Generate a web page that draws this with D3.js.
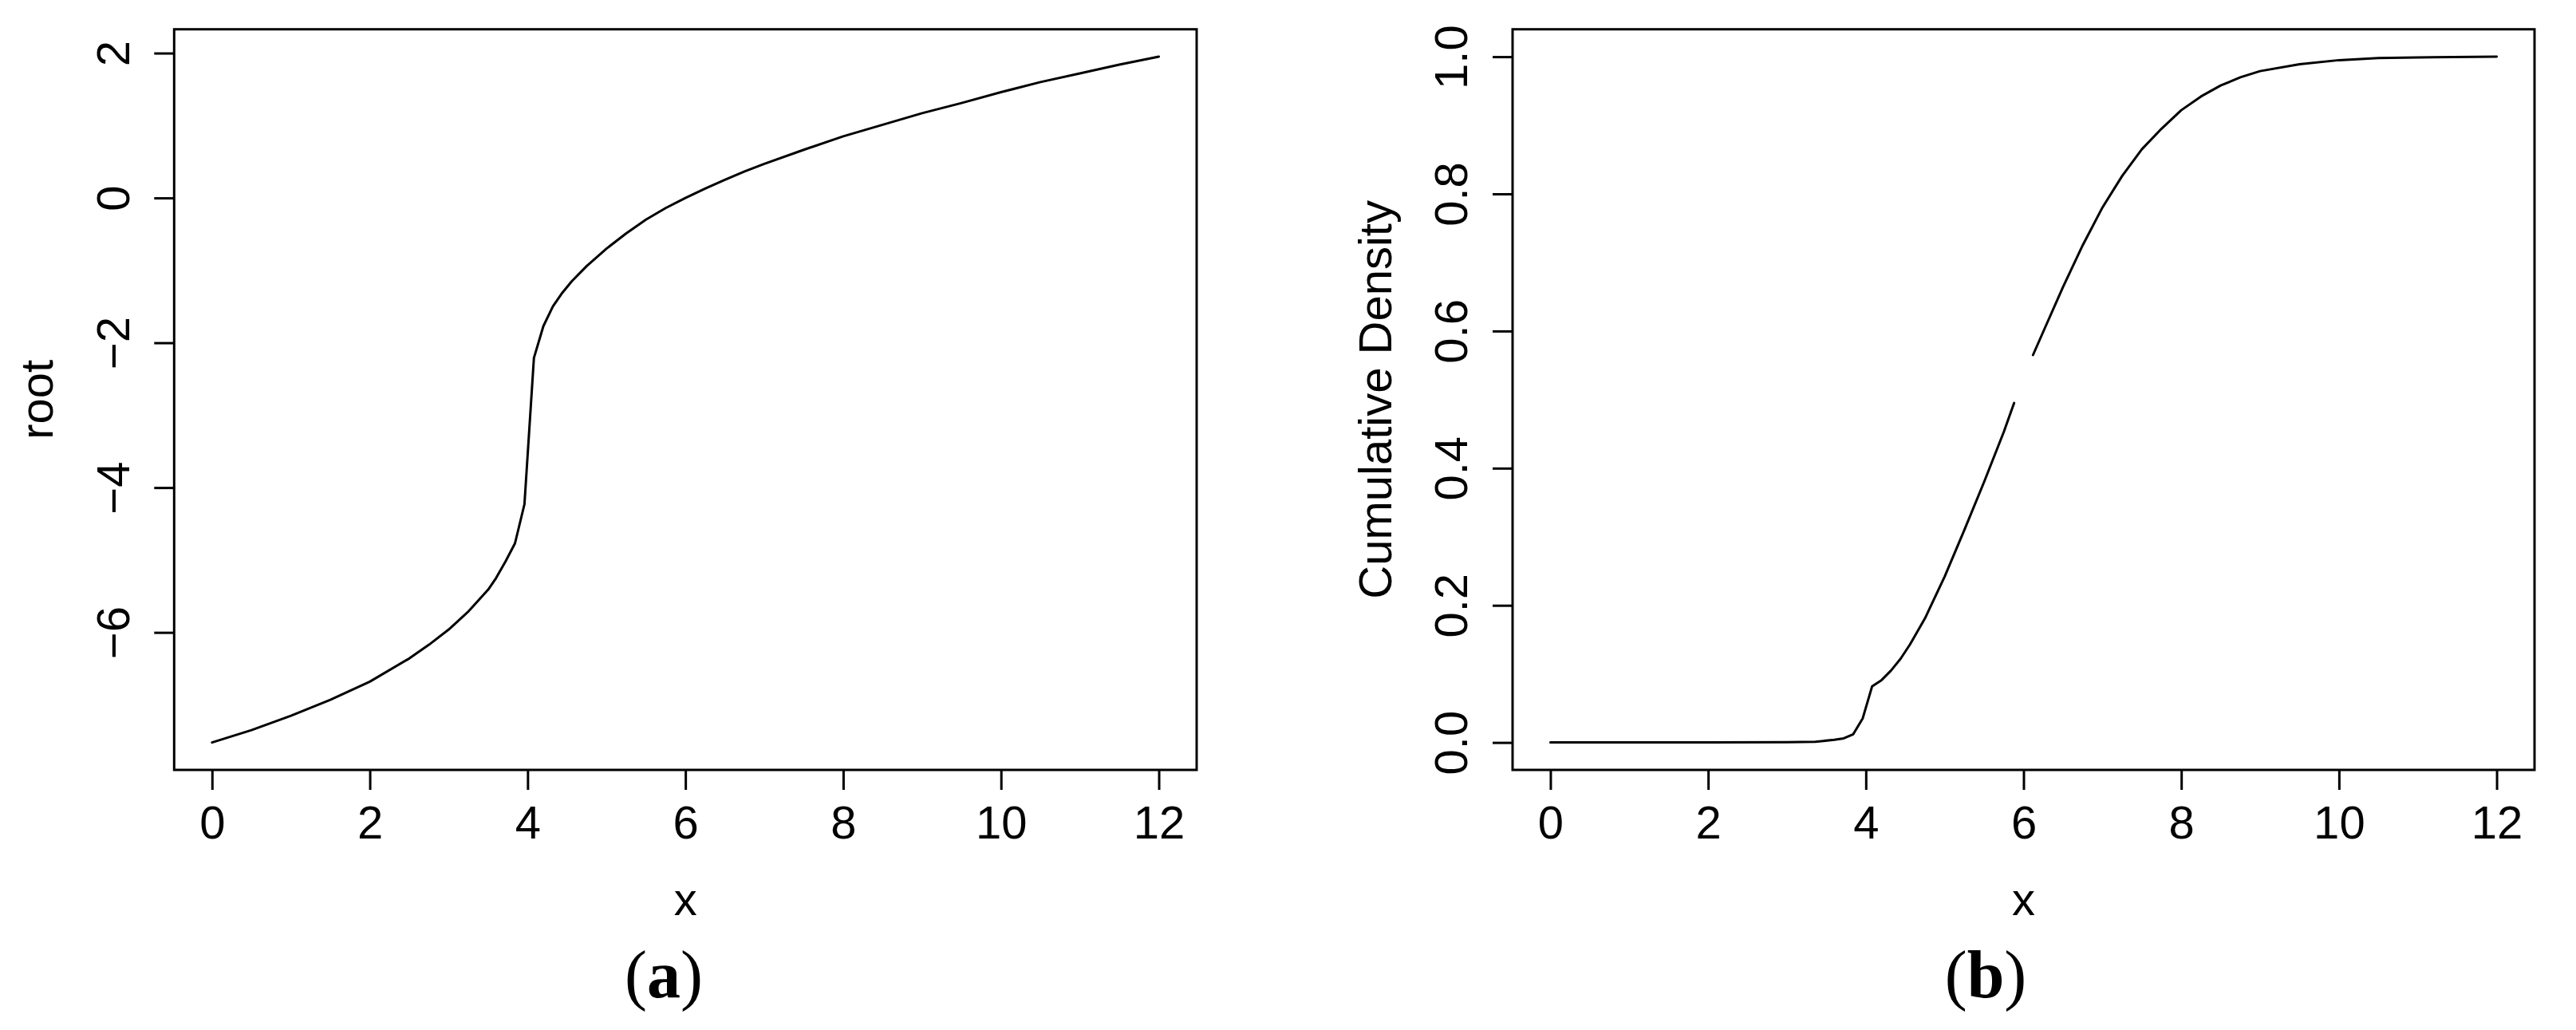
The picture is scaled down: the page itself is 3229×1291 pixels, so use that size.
<!DOCTYPE html>
<html>
<head>
<meta charset="utf-8">
<script src="https://cdn.jsdelivr.net/npm/d3@7"></script>
<style>
body { margin: 0; background: #fff; }
text { font-family: "Liberation Sans", Arial, Helvetica, sans-serif; fill: #000; }
.caption { font-family: "Liberation Serif", "Times New Roman", serif; }
</style>
</head>
<body>
<div id="vis"></div>
<script>
// panel (a): real root against x
var rootX = [0, 0.5, 1, 1.5, 2, 2.5, 2.75, 3, 3.25, 3.5, 3.6, 3.72, 3.84, 3.96, 4.08, 4.2, 4.32, 4.44, 4.56,
             4.75, 5, 5.25, 5.5, 5.75, 6, 6.25, 6.5, 6.75, 7, 7.5, 8, 8.5, 9, 9.5, 10, 10.5, 11, 11.5, 12];
var rootY = [-7.52, -7.35, -7.15, -6.93, -6.68, -6.36, -6.17, -5.96, -5.71, -5.41, -5.25, -5.02, -4.77, -4.23, -2.21, -1.77, -1.50, -1.31, -1.15,
             -0.94, -0.70, -0.49, -0.30, -0.14, 0.0, 0.13, 0.25, 0.365, 0.47, 0.665, 0.85, 1.01, 1.17, 1.31, 1.46, 1.60, 1.72, 1.84, 1.95];

// panel (b): cumulative density against x (no value at x = 6)
var cdfX = [0, 1, 2, 3, 3.36, 3.6, 3.72, 3.84, 3.96, 4.08, 4.2, 4.32, 4.44, 4.56, 4.75, 5, 5.25, 5.5, 5.75, 5.88,
            6, 6.12, 6.25, 6.5, 6.75, 7, 7.25, 7.5, 7.75, 8, 8.25, 8.5, 8.75, 9, 9.5, 10, 10.5, 11, 12];
var cdfY = [0, 0, 0, 0.0005, 0.001, 0.004, 0.006, 0.012, 0.035, 0.082, 0.091, 0.105, 0.122, 0.143, 0.181, 0.242, 0.310, 0.380, 0.453, 0.495,
            null, 0.565, 0.599, 0.664, 0.725, 0.780, 0.826, 0.865, 0.895, 0.922, 0.942, 0.958, 0.970, 0.979, 0.989, 0.995, 0.998, 0.999, 1.0];

var xTicks = [0, 2, 4, 6, 8, 10, 12],
    rootTicks = [-6, -4, -2, 0, 2],
    cdfTicks = [0, 0.2, 0.4, 0.6, 0.8, 1.0];

var width = 3229,
    height = 1291,
    plotTop = 36.7,
    plotBottom = 965,
    tickLen = 25;

var panels = [
    {left: 218.3, right: 1500, xs: rootX, ys: rootY, ticks: rootTicks,
     fmt: d3.format("d"), label: "root", caption: "a", capX: 832},
    {left: 1896, right: 3177, xs: cdfX, ys: cdfY, ticks: cdfTicks,
     fmt: d3.format(".1f"), label: "Cumulative Density", caption: "b", capX: 2489}
];

// R style: extend the data range by 4% on each side
function pad(ext) {
    var d = (ext[1] - ext[0]) * 0.04;
    return [ext[0] - d, ext[1] + d];
}

var svg = d3.select("#vis").append("svg")
    .attr("width", width)
    .attr("height", height)
    .style("background", "#fff");

panels.forEach(function(p) {
    var pts = p.xs.map(function(x, i) { return {x: x, y: p.ys[i]}; });

    var x = d3.scaleLinear().domain(pad(d3.extent(p.xs))).range([p.left, p.right]);
    var y = d3.scaleLinear().domain(pad(d3.extent(p.ys))).range([plotBottom, plotTop]);

    var g = svg.append("g");

    // curve, straight segments between evaluated points like R's lines()
    var line = d3.line()
        .defined(function(d) { return d.y != null; })
        .x(function(d) { return x(d.x); })
        .y(function(d) { return y(d.y); });

    g.append("path")
        .datum(pts)
        .attr("d", line)
        .attr("fill", "none")
        .attr("stroke", "#000")
        .attr("stroke-width", 3)
        .attr("stroke-linejoin", "round")
        .attr("stroke-linecap", "round");

    // x axis
    var xa = g.append("g")
        .attr("transform", "translate(0," + plotBottom + ")")
        .call(d3.axisBottom(x).tickValues(xTicks).tickSize(tickLen).tickFormat(d3.format("d")));
    xa.select(".domain").remove();
    xa.selectAll("line").attr("stroke-width", 3);
    xa.selectAll("text")
        .attr("y", 86)
        .attr("dy", 0)
        .style("font-size", "58px");

    // y axis, labels parallel to the axis
    var ya = g.append("g")
        .attr("transform", "translate(" + p.left + ",0)")
        .call(d3.axisLeft(y).tickValues(p.ticks).tickSize(tickLen).tickFormat(p.fmt));
    ya.select(".domain").remove();
    ya.selectAll("line").attr("stroke-width", 3);
    ya.selectAll("text")
        .attr("x", 0)
        .attr("dy", 0)
        .attr("text-anchor", "middle")
        .attr("transform", "translate(-56.6,0) rotate(-90)")
        .style("font-size", "58px");

    // frame
    g.append("rect")
        .attr("x", p.left)
        .attr("y", plotTop)
        .attr("width", p.right - p.left)
        .attr("height", plotBottom - plotTop)
        .attr("fill", "none")
        .attr("stroke", "#000")
        .attr("stroke-width", 3);

    // axis titles
    g.append("text")
        .attr("x", (p.left + p.right) / 2)
        .attr("y", 1146.7)
        .attr("text-anchor", "middle")
        .style("font-size", "58px")
        .text("x");

    g.append("text")
        .attr("transform", "translate(" + (p.left - 152) + "," + ((plotTop + plotBottom) / 2) + ") rotate(-90)")
        .attr("text-anchor", "middle")
        .style("font-size", "58px")
        .text(p.label);

    // sub-figure caption
    var cap = g.append("text")
        .attr("class", "caption")
        .attr("x", p.capX)
        .attr("y", 1250)
        .attr("text-anchor", "middle")
        .style("font-size", "84px");
    cap.append("tspan").text("(");
    cap.append("tspan").style("font-weight", "bold").text(p.caption);
    cap.append("tspan").text(")");
});
</script>
</body>
</html>
